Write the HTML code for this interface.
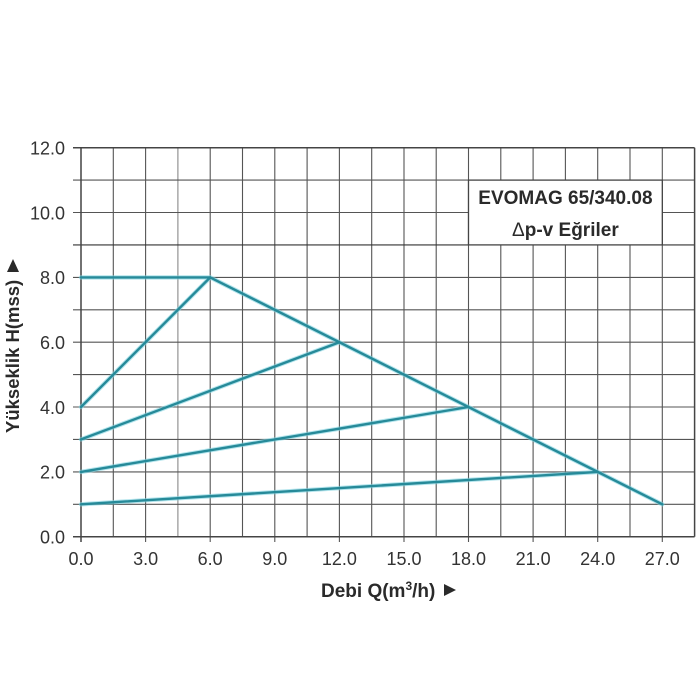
<!DOCTYPE html>
<html><head><meta charset="utf-8"><style>
html,body{margin:0;padding:0;background:#fff;}
svg{display:block;}
text{font-family:"Liberation Sans",Arial,sans-serif;}
</style></head><body>
<svg width="700" height="700" viewBox="0 0 700 700" xmlns="http://www.w3.org/2000/svg">
<rect width="700" height="700" fill="#fff"/>
<g stroke="#555" stroke-width="1.1" fill="none">
<line x1="113.3" y1="147.7" x2="113.3" y2="536.7"/>
<line x1="145.6" y1="147.7" x2="145.6" y2="542"/>
<line x1="177.9" y1="147.7" x2="177.9" y2="536.7" stroke="#888"/>
<line x1="210.2" y1="147.7" x2="210.2" y2="542"/>
<line x1="242.5" y1="147.7" x2="242.5" y2="536.7"/>
<line x1="274.8" y1="147.7" x2="274.8" y2="542"/>
<line x1="307.1" y1="147.7" x2="307.1" y2="536.7"/>
<line x1="339.4" y1="147.7" x2="339.4" y2="542"/>
<line x1="371.7" y1="147.7" x2="371.7" y2="536.7"/>
<line x1="404.0" y1="147.7" x2="404.0" y2="542"/>
<line x1="436.2" y1="147.7" x2="436.2" y2="536.7"/>
<line x1="468.5" y1="147.7" x2="468.5" y2="542"/>
<line x1="500.8" y1="147.7" x2="500.8" y2="536.7"/>
<line x1="533.1" y1="147.7" x2="533.1" y2="542"/>
<line x1="565.4" y1="147.7" x2="565.4" y2="536.7"/>
<line x1="597.7" y1="147.7" x2="597.7" y2="542"/>
<line x1="630.0" y1="147.7" x2="630.0" y2="536.7"/>
<line x1="662.3" y1="147.7" x2="662.3" y2="542"/>
<line x1="73" y1="504.3" x2="694.6" y2="504.3"/>
<line x1="73" y1="471.9" x2="694.6" y2="471.9"/>
<line x1="73" y1="439.4" x2="694.6" y2="439.4"/>
<line x1="73" y1="407.0" x2="694.6" y2="407.0"/>
<line x1="73" y1="374.6" x2="694.6" y2="374.6"/>
<line x1="73" y1="342.2" x2="694.6" y2="342.2"/>
<line x1="73" y1="309.8" x2="694.6" y2="309.8"/>
<line x1="73" y1="277.4" x2="694.6" y2="277.4"/>
<line x1="73" y1="244.9" x2="694.6" y2="244.9" stroke="#333"/>
<line x1="73" y1="212.5" x2="694.6" y2="212.5"/>
<line x1="73" y1="180.1" x2="694.6" y2="180.1"/>
</g>
<g stroke="#444" stroke-width="1.5" fill="none">
<line x1="73" y1="147.7" x2="694.6" y2="147.7"/>
<line x1="73" y1="536.7" x2="694.6" y2="536.7"/>
<line x1="81" y1="147.7" x2="81" y2="542"/>
<line x1="694.6" y1="147.7" x2="694.6" y2="536.7"/>
</g>
<rect x="468.5" y="180.1" width="193.8" height="64.8" fill="#fff" stroke="#444" stroke-width="1.3"/>
<text x="565.4" y="204" font-size="19" font-weight="bold" fill="#2a2a2a" text-anchor="middle">EVOMAG 65/340.08</text>
<text x="565.4" y="236" font-size="19" font-weight="bold" fill="#2a2a2a" text-anchor="middle"><tspan font-weight="normal">Δ</tspan>p-v Eğriler</text>
<g fill="none" stroke-linecap="round" stroke-linejoin="round">
<g stroke="#7fd3e0" stroke-width="4.4" opacity="0.6">
<polyline points="81,277.4 210.2,277.4 662.3,504.3"/>
<line x1="81" y1="407.0" x2="210.2" y2="277.4"/>
<line x1="81" y1="439.4" x2="339.4" y2="342.2"/>
<line x1="81" y1="471.9" x2="468.5" y2="407.0"/>
<line x1="81" y1="504.3" x2="597.7" y2="471.9"/>
</g>
<g stroke="#268a99" stroke-width="2.4">
<polyline points="81,277.4 210.2,277.4 662.3,504.3"/>
<line x1="81" y1="407.0" x2="210.2" y2="277.4"/>
<line x1="81" y1="439.4" x2="339.4" y2="342.2"/>
<line x1="81" y1="471.9" x2="468.5" y2="407.0"/>
<line x1="81" y1="504.3" x2="597.7" y2="471.9"/>
</g>
</g>
<g font-size="18" fill="#333" text-anchor="end">
<text x="65" y="543.5">0.0</text>
<text x="65" y="478.5">2.0</text>
<text x="65" y="413.8">4.0</text>
<text x="65" y="349">6.0</text>
<text x="65" y="284">8.0</text>
<text x="65" y="219.3">10.0</text>
<text x="65" y="154.5">12.0</text>
</g>
<g font-size="18" fill="#333" text-anchor="middle">
<text x="81" y="565">0.0</text>
<text x="145.6" y="565">3.0</text>
<text x="210.2" y="565">6.0</text>
<text x="274.8" y="565">9.0</text>
<text x="339.4" y="565">12.0</text>
<text x="404.0" y="565">15.0</text>
<text x="468.5" y="565">18.0</text>
<text x="533.1" y="565">21.0</text>
<text x="597.7" y="565">24.0</text>
<text x="662.3" y="565">27.0</text>
</g>
<text x="321" y="597" font-size="19" font-weight="bold" fill="#2a2a2a">Debi Q(m<tspan font-size="12" dy="-7">3</tspan><tspan dy="7">/h)</tspan></text>
<polygon points="444,584 456,590 444,596" fill="#2a2a2a"/>
<g transform="translate(19,433) rotate(-90)">
<text x="0" y="0" font-size="18.5" font-weight="bold" fill="#2a2a2a">Yükseklik H(mss)</text>
<polygon points="161,-12 174,-6 161,0" fill="#2a2a2a"/>
</g>
</svg>
</body></html>
